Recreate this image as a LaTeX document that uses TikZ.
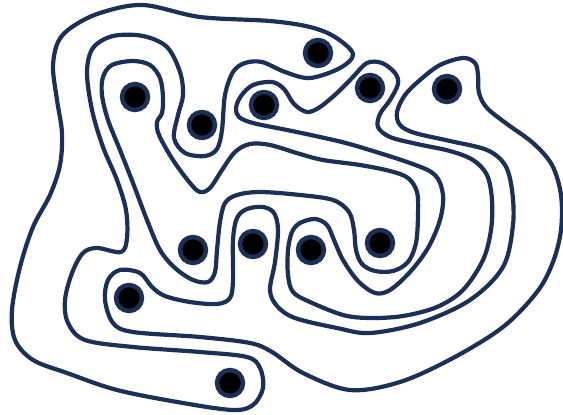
\documentclass[tikz,border=0pt]{standalone}
\usepackage{tikz}
\definecolor{navy}{HTML}{1B2F57}

\begin{document}
\begin{tikzpicture}[
        x=1pt, y=-1pt,
        band/.style = {draw=navy, line width=4.2pt, line join=round},
        dot/.style  = {circle, draw=navy, fill=black, line width=4.5pt,
                       minimum size=26pt, inner sep=0pt}
    ]
        \useasboundingbox (0,0) rectangle (563,415);
        \draw[band] plot[smooth cycle, tension=0.55] coordinates {
            (143,5) (200,17) (270,21) (310,27) (335,37) (353,54) (340,68)
            (310,78) (285,72) (262,62) (245,63) (233,72) (225,95) (222,130)
            (217,149) (205,156) (185,153) (174,138) (178,115) (183,95) (180,72)
            (167,47) (143,36) (113,36) (93,48) (87,72) (92,110) (103,147)
            (117,180) (126,210) (127,238) (121,252) (97,248) (83,253) (72,273)
            (65,300) (68,323) (85,340) (133,347) (200,352) (247,357) (260,368)
            (263,388) (253,405) (233,410) (183,403) (117,390) (67,373) (33,360)
            (15,340) (12,310) (20,267) (33,227) (50,195) (60,165) (62,133)
            (57,100) (53,67) (58,42) (72,27) (100,13)};
        \draw[band] plot[smooth cycle, tension=0.55] coordinates {
            (103,77) (112,65) (133,61) (150,65) (160,78) (163,97) (162,113)
            (157,122) (159,135) (173,160) (190,183) (200,192) (210,188)
            (222,170) (235,152) (250,144) (270,145) (300,154) (323,160)
            (360,165) (390,171) (408,178) (417,192) (418,215) (416,243)
            (408,262) (393,271) (375,271) (362,264) (356,250) (354,230)
            (349,212) (333,200) (300,195) (260,192) (237,195) (225,203)
            (220,222) (217,250) (215,272) (208,282) (193,280) (175,268)
            (160,250) (147,220) (133,183) (120,150) (108,120) (102,95)};
        \draw[band] plot[smooth cycle, tension=0.55] coordinates {
            (236,108) (241,96) (253,85) (272,82) (284,89) (294,104) (307,112)
            (320,107) (337,93) (352,78) (367,63) (382,63) (395,73) (398,84)
            (390,100) (380,114) (378,127) (390,137) (417,144) (450,151)
            (473,160) (487,175) (492,200) (491,230) (483,260) (463,290)
            (437,307) (403,316) (370,318) (343,315) (310,302) (293,292)
            (288,275) (288,250) (292,232) (300,223) (315,219) (327,225)
            (334,240) (343,260) (358,281) (375,293) (390,290) (410,272)
            (428,248) (440,220) (443,195) (435,175) (410,163) (353,145)
            (320,137) (287,130) (253,123) (239,117)};
        \draw[band] plot[smooth cycle, tension=0.55] coordinates {
            (397,112) (405,95) (420,80) (440,65) (463,58) (475,63) (478,75)
            (479,93) (487,108) (507,124) (533,143) (552,165) (561,195)
            (561,230) (553,262) (537,292) (503,327) (453,358) (400,382)
            (350,390) (303,373) (272,352) (250,343) (200,337) (133,332)
            (113,323) (105,300) (108,280) (120,270) (140,273) (152,287)
            (165,296) (190,302) (217,304) (230,298) (233,280) (233,240)
            (237,218) (247,209) (263,207) (274,213) (278,230) (275,262)
            (270,290) (277,306) (295,318) (337,328) (370,333) (420,323)
            (470,300) (503,267) (513,225) (512,190) (505,165) (487,150)
            (450,141) (415,133) (400,125)};
        \node[dot] (d1)  at (135,97)  {};
        \node[dot] (d2)  at (202,125) {};
        \node[dot] (d3)  at (264,105) {};
        \node[dot] (d4)  at (318,53)  {};
        \node[dot] (d5)  at (370,88)  {};
        \node[dot] (d6)  at (447,89)  {};
        \node[dot] (d7)  at (193,250) {};
        \node[dot] (d8)  at (253,244) {};
        \node[dot] (d9)  at (311,250) {};
        \node[dot] (d10) at (380,243) {};
        \node[dot] (d11) at (129,298) {};
        \node[dot] (d12) at (230,383) {};
    \end{tikzpicture}
\end{document}
